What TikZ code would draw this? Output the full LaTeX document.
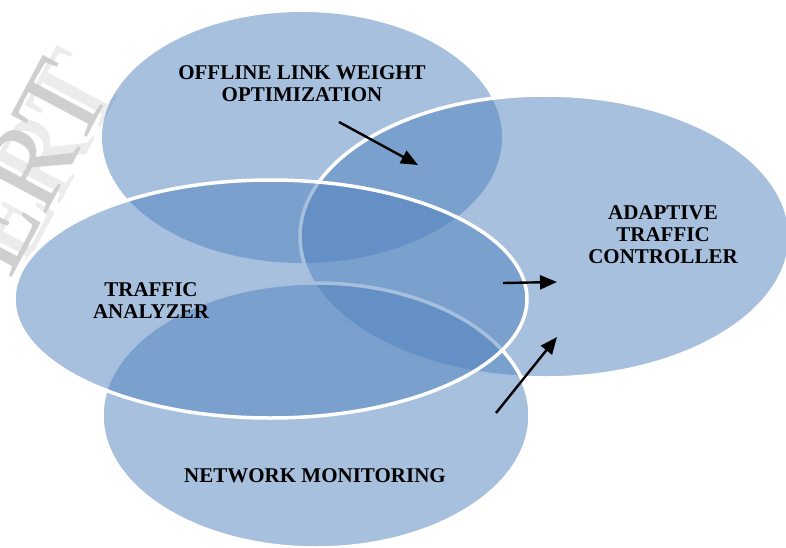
\documentclass[tikz,border=0pt]{standalone}
\usepackage{fontspec}
\setmainfont{Liberation Serif}
\usetikzlibrary{shapes.geometric,arrows.meta}
\definecolor{venn}{HTML}{4F81BD}
\tikzset{
  bubble/.style={ellipse, fill=venn, fill opacity=0.5, inner sep=0pt},
  rim/.style={bubble, draw=white, draw opacity=1, line width=3.5pt},
  lbl/.style={align=center, font=\fontsize{21pt}{22pt}\selectfont\bfseries, text=black, inner sep=0pt},
  pointer/.style={line width=2.4pt, -{Triangle[length=17pt, width=14pt]}},
  wm/.style={font=\fontsize{118pt}{118pt}\selectfont, rotate=62, anchor=base east, inner sep=0pt}
}
\begin{document}
\begin{tikzpicture}[x=1pt, y=-1pt]
\useasboundingbox (0,0) rectangle (786,548);
% watermark
\node[wm, text=gray!15] (wmb) at (126,80) {ERT};
\node[wm, text=gray!38] (wma) at (112,90) {ERT};
% circles
\node[bubble, minimum width=400pt, minimum height=251pt] (off) at (302,137.5) {};
\node[rim, minimum width=490pt, minimum height=283pt] (ada) at (545,236.5) {};
\node[rim, minimum width=428pt, minimum height=265pt] (net) at (316,415.5) {};
\node[rim, minimum width=513pt, minimum height=238pt] (ana) at (270.5,299) {};
% labels
\node[lbl, anchor=base] (toff) at (302,102) {OFFLINE LINK WEIGHT\\OPTIMIZATION};
\node[lbl, anchor=base] (tada) at (663,263) {ADAPTIVE\\TRAFFIC\\CONTROLLER};
\node[lbl, anchor=base] (tana) at (151,318) {TRAFFIC\\ANALYZER};
\node[lbl, anchor=base] (tnet) at (315,482) {NETWORK MONITORING};
% arrows
\coordinate (a1s) at (339,122);
\coordinate (a1e) at (418,165);
\coordinate (a2s) at (503,283);
\coordinate (a2e) at (557,282);
\coordinate (a3s) at (496,413);
\coordinate (a3e) at (557,337);
\draw[pointer] (a1s) -- (a1e);
\draw[pointer] (a2s) -- (a2e);
\draw[pointer] (a3s) -- (a3e);
\end{tikzpicture}
\end{document}
